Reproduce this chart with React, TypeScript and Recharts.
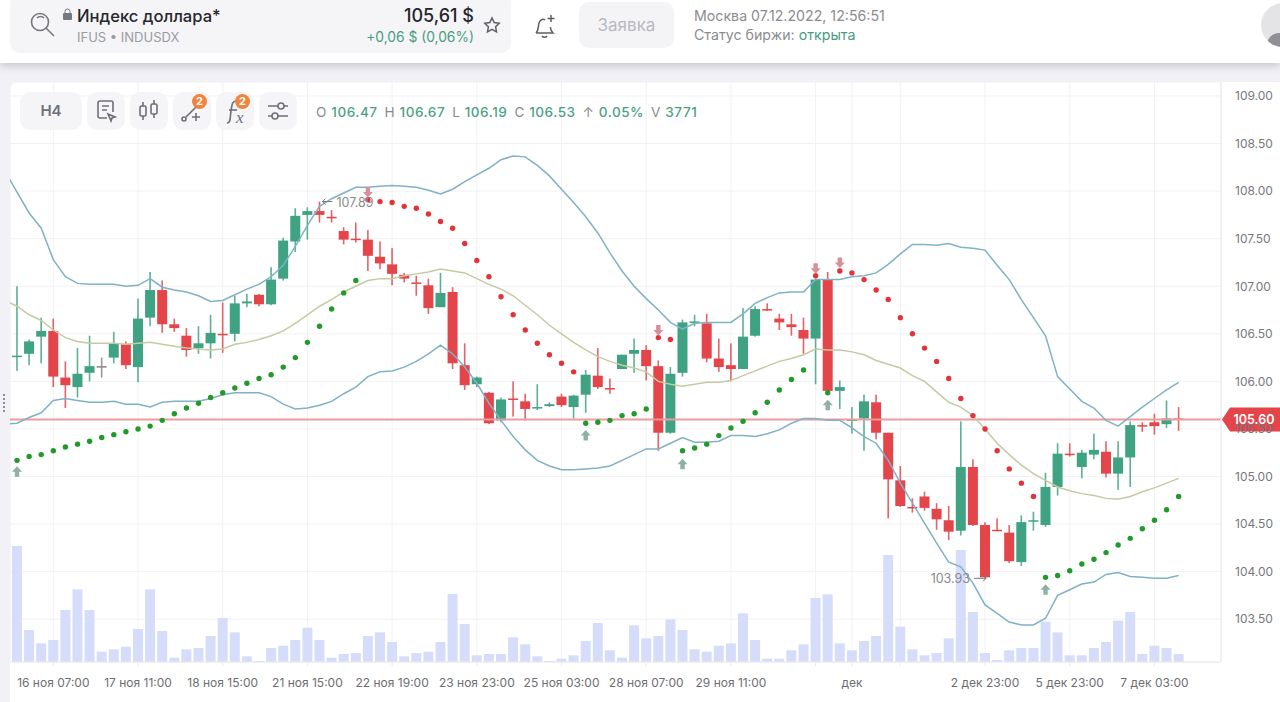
import React from "react";
import { ComposedChart, XAxis, YAxis, CartesianGrid, Bar, Line, ReferenceLine, ReferenceDot } from "recharts";

const font = "Inter, sans-serif";
const GREEN = "#3fa283";
const RED = "#e4454b";

// свечи H4, индекс 0 = первая свеча слева
const opens = [106.26, 106.29, 106.47, 106.53, 106.04, 105.94, 106.09, 106.16, 106.25, 106.39, 106.15, 106.67, 106.96, 106.6, 106.48, 106.35, 106.4, 106.5, 106.5, 106.82, 106.91, 106.81, 107.08, 107.47, 107.75, 107.79, 107.73, 107.58, 107.5, 107.49, 107.31, 107.23, 107.12, 107.04, 107.01, 106.78, 106.94, 106.17, 105.97, 105.88, 105.59, 105.82, 105.79, 105.72, 105.74, 105.84, 105.73, 105.86, 106.06, 105.93, 106.13, 106.29, 106.33, 106.16, 105.46, 106.09, 106.62, 106.61, 106.24, 106.17, 106.13, 106.48, 106.76, 106.66, 106.6, 106.54, 106.45, 107.07, 105.9, 105.59, 105.61, 105.78, 105.46, 104.96, 104.68, 104.79, 104.66, 104.54, 104.43, 105.1, 104.49, 104.44, 104.41, 104.1, 104.53, 104.49, 104.89, 105.24, 105.1, 105.23, 105.26, 105.03, 105.2, 105.54, 105.57, 105.55, 105.61];
const closes = [106.27, 106.42, 106.53, 106.05, 105.96, 106.08, 106.16, 106.16, 106.4, 106.17, 106.66, 106.96, 106.6, 106.56, 106.33, 106.4, 106.51, 106.49, 106.82, 106.84, 106.81, 107.07, 107.48, 107.74, 107.79, 107.75, 107.72, 107.49, 107.49, 107.32, 107.24, 107.13, 107.08, 107.03, 106.77, 106.93, 106.19, 105.96, 106.04, 105.56, 105.81, 105.81, 105.71, 105.73, 105.76, 105.75, 105.85, 106.07, 105.94, 105.92, 106.28, 106.33, 106.16, 105.46, 106.08, 106.62, 106.63, 106.24, 106.15, 106.13, 106.47, 106.76, 106.75, 106.62, 106.57, 106.45, 107.07, 105.9, 105.94, 105.6, 105.79, 105.46, 104.97, 104.69, 104.67, 104.67, 104.55, 104.42, 105.1, 104.49, 103.94, 104.43, 104.11, 104.52, 104.54, 104.89, 105.24, 105.23, 105.25, 105.28, 105.03, 105.2, 105.54, 105.53, 105.53, 105.61, 105.6];
const highs = [107.0, 106.44, 106.67, 106.66, 106.21, 106.35, 106.48, 106.25, 106.52, 106.42, 106.87, 107.15, 107.06, 106.66, 106.56, 106.58, 106.7, 106.83, 106.9, 106.92, 106.92, 107.2, 107.51, 107.82, 107.83, 107.89, 107.8, 107.62, 107.67, 107.59, 107.47, 107.4, 107.14, 107.11, 107.08, 107.14, 106.99, 106.4, 106.05, 105.89, 105.83, 106.0, 105.87, 105.97, 105.78, 105.87, 105.86, 106.12, 106.35, 106.03, 106.28, 106.45, 106.38, 106.22, 106.15, 106.65, 106.7, 106.71, 106.45, 106.4, 106.77, 106.79, 106.82, 106.71, 106.71, 106.67, 107.08, 107.15, 106.01, 105.73, 105.86, 105.86, 105.46, 105.11, 104.77, 104.84, 104.72, 104.69, 105.58, 105.18, 104.52, 104.56, 104.49, 104.59, 104.63, 105.04, 105.35, 105.35, 105.28, 105.45, 105.37, 105.37, 105.58, 105.57, 105.66, 105.8, 105.73];
const lows = [106.11, 106.17, 106.19, 105.94, 105.72, 105.83, 106.0, 106.04, 106.19, 106.13, 105.99, 106.58, 106.51, 106.52, 106.26, 106.29, 106.24, 106.3, 106.42, 106.78, 106.79, 106.8, 107.06, 107.36, 107.49, 107.67, 107.67, 107.44, 107.46, 107.16, 107.18, 107.01, 107.04, 106.9, 106.71, 106.78, 106.13, 105.91, 105.94, 105.55, 105.57, 105.63, 105.59, 105.7, 105.73, 105.73, 105.61, 105.67, 105.92, 105.87, 106.13, 106.09, 106.01, 105.27, 105.45, 106.05, 106.58, 106.2, 106.1, 106.0, 106.13, 106.47, 106.74, 106.54, 106.48, 106.29, 105.97, 105.9, 105.71, 105.45, 105.27, 105.39, 104.56, 104.68, 104.62, 104.64, 104.44, 104.33, 104.38, 104.48, 103.93, 104.43, 104.09, 104.06, 104.43, 104.47, 104.8, 105.21, 104.98, 105.18, 104.99, 104.86, 104.89, 105.47, 105.44, 105.51, 105.48];
const volumes = [23420, 6460, 3771, 4440, 10500, 14670, 10500, 2090, 2560, 3100, 6660, 14670, 6260, 875, 2560, 2830, 5250, 8880, 5990, 1140, 200, 2830, 3300, 4440, 6930, 4440, 875, 1620, 1820, 5250, 5990, 4040, 1140, 1820, 2090, 4040, 13730, 7670, 1350, 1620, 1620, 4980, 3570, 1140, 200, 670, 1350, 4240, 7870, 2360, 875, 7400, 4780, 5250, 8610, 6460, 2560, 2090, 3300, 3770, 9830, 4440, 670, 670, 2360, 3570, 12920, 13660, 3770, 2360, 4240, 5250, 21600, 7130, 2560, 1350, 1820, 4780, 22610, 10100, 1820, 400, 2360, 2830, 2830, 8140, 5990, 1350, 1350, 2830, 4040, 8350, 10100, 1620, 3300, 2830, 1620];

// parabolic SAR
const sar = [105.17, 105.21, 105.23, 105.27, 105.31, 105.34, 105.37, 105.41, 105.44, 105.47, 105.5, 105.53, 105.59, 105.66, 105.72, 105.77, 105.83, 105.88, 105.93, 105.98, 106.03, 106.07, 106.15, 106.25, 106.41, 106.58, 106.76, 106.93, 107.06, 107.91, 107.89, 107.88, 107.84, 107.82, 107.76, 107.68, 107.61, 107.45, 107.27, 107.1, 106.89, 106.7, 106.54, 106.4, 106.28, 106.19, 106.1, 105.56, 105.57, 105.59, 105.64, 105.66, 105.71, 106.46, 106.44, 105.27, 105.3, 105.34, 105.43, 105.51, 105.58, 105.67, 105.78, 105.91, 106.02, 106.12, 107.11, 105.88, 107.16, 107.14, 107.07, 106.96, 106.86, 106.67, 106.5, 106.35, 106.21, 106.03, 105.82, 105.64, 105.5, 105.27, 105.08, 104.93, 104.79, 103.94, 103.96, 104.01, 104.08, 104.13, 104.2, 104.28, 104.35, 104.45, 104.54, 104.65, 104.79];
const sarBearish = [29, 30, 31, 32, 33, 34, 35, 36, 37, 38, 39, 40, 41, 42, 43, 44, 45, 46, 53, 54, 66, 68, 69, 70, 71, 72, 73, 74, 75, 76, 77, 78, 79, 80, 81, 82, 83, 84];
const arrowUpAt: [number, number][] = [[0, 105.05], [47, 105.43], [55, 105.13], [67, 105.75], [85, 103.81]];
const arrowDownAt: [number, number][] = [[29, 107.99], [53, 106.54], [66, 107.19], [68, 107.25]];

// полосы Боллинджера, первый элемент - за левым краем (индекс -1)
const bbUpper = [108.21, 107.99, 107.77, 107.61, 107.28, 107.1, 107.03, 107.02, 107.02, 107.02, 107.0, 107.01, 107.08, 106.99, 106.96, 106.94, 106.9, 106.84, 106.85, 106.91, 106.97, 107.02, 107.1, 107.22, 107.42, 107.64, 107.84, 107.92, 107.98, 108.04, 108.04, 108.05, 108.06, 108.05, 108.04, 108.01, 107.97, 108.02, 108.1, 108.17, 108.24, 108.33, 108.37, 108.36, 108.27, 108.16, 108.02, 107.88, 107.73, 107.56, 107.35, 107.16, 107.0, 106.87, 106.75, 106.62, 106.55, 106.61, 106.62, 106.62, 106.62, 106.71, 106.82, 106.88, 106.93, 106.94, 106.94, 107.07, 107.07, 107.07, 107.1, 107.11, 107.14, 107.23, 107.34, 107.44, 107.44, 107.43, 107.45, 107.41, 107.4, 107.38, 107.22, 107.07, 106.86, 106.67, 106.48, 106.05, 105.92, 105.79, 105.72, 105.59, 105.53, 105.63, 105.73, 105.82, 105.91, 105.99];
const bbMiddle = [106.85, 106.79, 106.7, 106.64, 106.54, 106.46, 106.42, 106.4, 106.4, 106.4, 106.39, 106.4, 106.41, 106.39, 106.37, 106.35, 106.34, 106.33, 106.34, 106.39, 106.41, 106.44, 106.48, 106.53, 106.61, 106.7, 106.79, 106.86, 106.94, 107.0, 107.06, 107.08, 107.08, 107.11, 107.13, 107.15, 107.18, 107.16, 107.14, 107.08, 107.02, 106.97, 106.9, 106.8, 106.7, 106.59, 106.5, 106.41, 106.33, 106.26, 106.21, 106.17, 106.14, 106.1, 106.0, 105.97, 105.95, 105.97, 105.99, 105.99, 106.01, 106.06, 106.11, 106.16, 106.21, 106.24, 106.28, 106.34, 106.33, 106.33, 106.31, 106.28, 106.22, 106.18, 106.14, 106.06, 106.0, 105.89, 105.78, 105.73, 105.64, 105.5, 105.35, 105.23, 105.12, 105.03, 104.96, 104.89, 104.85, 104.82, 104.8, 104.77, 104.76, 104.79, 104.84, 104.88, 104.93, 104.98];
const bbLower = [105.55, 105.56, 105.62, 105.67, 105.8, 105.82, 105.8, 105.78, 105.78, 105.79, 105.76, 105.76, 105.73, 105.78, 105.79, 105.79, 105.79, 105.82, 105.86, 105.88, 105.88, 105.88, 105.84, 105.76, 105.71, 105.72, 105.75, 105.79, 105.87, 105.94, 106.05, 106.1, 106.11, 106.15, 106.21, 106.29, 106.38, 106.29, 106.15, 105.98, 105.77, 105.59, 105.42, 105.28, 105.17, 105.11, 105.07, 105.07, 105.08, 105.09, 105.11, 105.17, 105.23, 105.29, 105.29, 105.35, 105.41, 105.36, 105.36, 105.37, 105.43, 105.43, 105.42, 105.45, 105.49, 105.56, 105.61, 105.61, 105.59, 105.59, 105.51, 105.42, 105.35, 105.17, 104.93, 104.72, 104.51, 104.3, 104.1, 104.05, 103.88, 103.65, 103.56, 103.47, 103.44, 103.44, 103.51, 103.75, 103.81, 103.87, 103.89, 103.97, 103.99, 103.95, 103.94, 103.93, 103.93, 103.96];

const xTicks = [3, 10, 17, 24, 31, 38, 45, 52, 59, 66, 69, 73, 80, 87, 94];
const xTickLabels = ["16 ноя 07:00", "17 ноя 11:00", "18 ноя 15:00", "21 ноя 15:00", "22 ноя 19:00", "23 ноя 23:00", "25 ноя 03:00", "28 ноя 07:00", "29 ноя 11:00", "", "дек", "", "2 дек 23:00", "5 дек 23:00", "7 дек 03:00"];
const yTicks = [103.5, 104, 104.5, 105, 105.5, 106, 106.5, 107, 107.5, 108, 108.5, 109];
const lastPrice = 105.6;
const legend: [string, string][] = [["O", "106.47"], ["H", "106.67"], ["L", "106.19"], ["C", "106.53"], ["↑", "0.05%"], ["V", "3771"]];

const data = bbUpper.map((u, k) => {
  const i = k - 1;
  const row: any = { i, upper: u, middle: bbMiddle[k], lower: bbLower[k] };
  if (i >= 0) {
    row.open = opens[i];
    row.close = closes[i];
    row.high = highs[i];
    row.low = lows[i];
    row.volume = volumes[i];
    if (sarBearish.includes(i)) row.sarDown = sar[i];
    else row.sarUp = sar[i];
    const up = arrowUpAt.find((a) => a[0] === i);
    if (up) row.arrowUp = up[1];
    const down = arrowDownAt.find((a) => a[0] === i);
    if (down) row.arrowDown = down[1];
  }
  return row;
});

function Candle(props: any) {
  const { x, y, width, height, payload } = props;
  if (payload == null || payload.high == null) return null;
  const { open, close, high, low } = payload;
  const perUnit = height / (high - low);
  const top = y + (high - Math.max(open, close)) * perUnit;
  const bodyH = Math.max(1.5, Math.abs(open - close) * perUnit);
  const color = close === open ? "#8d8588" : close > open ? GREEN : RED;
  const cx = x + width / 2;
  return (
    <g>
      <rect x={cx - 0.8} y={y} width={1.6} height={height} fill={color} opacity={0.85} />
      <rect x={x} y={top} width={width} height={bodyH} fill={color} />
    </g>
  );
}

const SarDot = (color: string) => (props: any) => {
  const { cx, cy, index } = props;
  if (cy == null || Number.isNaN(cy)) return <g key={index} />;
  return <circle key={index} cx={cx} cy={cy} r={2.7} fill={color} />;
};

const ArrowDot = (dir: number, color: string) => (props: any) => {
  const { cx, cy, index } = props;
  if (cy == null || Number.isNaN(cy)) return <g key={index} />;
  const d = dir;
  const pts = [[0, -5.5 * d], [5, 0], [2.2, 0], [2.2, 5 * d], [-2.2, 5 * d], [-2.2, 0], [-5, 0]];
  return <polygon key={index} points={pts.map((p) => `${cx + p[0]},${cy + p[1]}`).join(" ")} fill={color} />;
};

function PriceTag(props: any) {
  const { viewBox } = props;
  const x = viewBox.x + viewBox.width + 1;
  const y = viewBox.y;
  const pts = [[x, y], [x + 8, y - 12], [x + 60, y - 12], [x + 60, y + 12], [x + 8, y + 12]];
  return (
    <g>
      <polygon points={pts.map((p) => p.join(",")).join(" ")} fill={RED} />
      <text x={x + 32} y={y + 5} textAnchor="middle" fontSize={12.5} fontWeight={600} fill="#fff" fontFamily={font}>
        {lastPrice.toFixed(2)}
      </text>
    </g>
  );
}

function Extreme(props: any) {
  const { cx, cy, side, text } = props;
  if (side === "right") {
    return (
      <g fontFamily={font}>
        <path d={`M${cx + 13} ${cy}H${cx + 3}m3 -3l-3 3l3 3`} stroke="#777" strokeWidth={1} fill="none" />
        <text x={cx + 17} y={cy + 5} fontSize={12.5} fill="#8b8b8b">{text}</text>
      </g>
    );
  }
  return (
    <g fontFamily={font}>
      <path d={`M${cx - 11} ${cy}H${cx + 1}m-3 -3l3 3l-3 3`} stroke="#777" strokeWidth={1} fill="none" />
      <text x={cx - 15} y={cy + 5} fontSize={12.5} fill="#8b8b8b" textAnchor="end">{text}</text>
    </g>
  );
}

const btn: React.CSSProperties = { position: "absolute", top: 92, height: 38, width: 38, background: "rgba(244,244,247,0.9)", borderRadius: 10 };

function ToolIcon({ left, children }: { left: number; children: React.ReactNode }) {
  return (
    <div style={{ ...btn, left }}>
      <svg width={38} height={38} fill="none" stroke="#6f6f78" strokeWidth={1.6}>{children}</svg>
    </div>
  );
}

const Badge = ({ left }: { left: number }) => (
  <div style={{ position: "absolute", left, top: 94, width: 15, height: 15, borderRadius: 8, background: "#f0843c", color: "#fff", fontSize: 11, fontWeight: 700, textAlign: "center", lineHeight: "15px" }}>2</div>
);

export default function App() {
  return (
    <div style={{ position: "fixed", left: 0, top: 0, width: 1280, height: 702, overflow: "hidden", background: "#f1f1f6", fontFamily: font }}>
      {/* шапка */}
      <div style={{ position: "absolute", left: 0, top: 0, width: 1280, height: 63, background: "#fff", boxShadow: "0 2px 9px rgba(60,60,70,0.28)" }} />
      <div style={{ position: "absolute", left: 10, top: -6, width: 501, height: 59, background: "#f5f5f7", borderRadius: 10 }} />
      <svg style={{ position: "absolute", left: 28, top: 10 }} width={30} height={30} fill="none" stroke="#77777f" strokeWidth={1.6}>
        <circle cx={12} cy={12} r={8.5} />
        <path d="M9 8a5 5 0 0 1 7 0M18 18l8 8" />
      </svg>
      <svg style={{ position: "absolute", left: 62, top: 8 }} width={11} height={13}>
        <rect x={1} y={5} width={9} height={7} rx={1} fill="#77777f" />
        <path d="M3 6V3.5a2.5 2.5 0 0 1 5 0V6" stroke="#77777f" fill="none" />
      </svg>
      <div style={{ position: "absolute", left: 77, top: 6, fontSize: 16.6, fontWeight: 500, color: "#26262b" }}>Индекс доллара*</div>
      <div style={{ position: "absolute", left: 77, top: 29, fontSize: 13, color: "#9a9aa3" }}>IFUS • INDUSDX</div>
      <div style={{ position: "absolute", right: 806, top: 5, fontSize: 18, fontWeight: 500, color: "#26262b" }}>105,61 $</div>
      <div style={{ position: "absolute", right: 806, top: 29, fontSize: 13.8, color: "#4a9c80" }}>+0,06 $ (0,06%)</div>
      <svg style={{ position: "absolute", left: 483, top: 16 }} width={18} height={18} fill="none" stroke="#5e5e66" strokeWidth={1.5}>
        <path d="M9 2l2.2 4.6 5 .7-3.6 3.5.9 5L9 13.4l-4.5 2.4.9-5L1.8 7.3l5-.7z" />
      </svg>
      <svg style={{ position: "absolute", left: 532, top: 12 }} width={26} height={28} fill="none" stroke="#5e5e66" strokeWidth={1.5}>
        <path d="M4 21c3-3 2-7 3-10s4-5 6-3M4 21h17c-2-2-2.5-4-2.6-6M10 24a3 3 0 0 0 5 0M19 3v7M15.5 6.5h7" />
      </svg>
      <div style={{ position: "absolute", left: 579, top: 2, width: 95, height: 46, background: "#f4f4f6", borderRadius: 10, textAlign: "center", lineHeight: "46px", fontSize: 17, color: "#b9b9c1" }}>Заявка</div>
      <div style={{ position: "absolute", left: 694, top: 7, fontSize: 14.2, color: "#8c8c8f" }}>Москва 07.12.2022, 12:56:51</div>
      <div style={{ position: "absolute", left: 694, top: 26, fontSize: 14.2, color: "#8c8c8f" }}>Статус биржи: <span style={{ color: "#4a9c80" }}>открыта</span></div>
      <div style={{ position: "absolute", left: 1261, top: 3, width: 44, height: 44, borderRadius: 22, background: "#e4e4e7", overflow: "hidden" }}>
        <div style={{ position: "absolute", left: 6, top: 30, width: 30, height: 24, borderRadius: 15, background: "#8f8f95" }} />
      </div>

      {/* карточка графика */}
      <div style={{ position: "absolute", left: 10, top: 82, width: 1270, height: 620, background: "#fff", borderTopLeftRadius: 8 }}>
        <ComposedChart width={1270} height={620} data={data} margin={{ top: 0, right: 0, bottom: 0, left: 0 }} style={{ fontFamily: font }}>
          <CartesianGrid stroke="#f2f2f6" xAxisId="main" yAxisId="price" />
          <XAxis
            xAxisId="main"
            dataKey="i"
            type="number"
            domain={[-0.58, 99.5]}
            allowDataOverflow
            ticks={xTicks}
            interval={0}
            height={40}
            tickFormatter={(v: number) => xTickLabels[xTicks.indexOf(v)]}
            tick={{ fontSize: 12, fill: "#6d6d72" }}
            tickSize={4}
            tickMargin={12}
            stroke="#e9e9ee"
          />
          <XAxis xAxisId="vol" dataKey="i" type="number" domain={[-0.58, 99.5]} allowDataOverflow hide />
          <YAxis
            yAxisId="price"
            orientation="right"
            domain={[103.05, 109.147]}
            allowDataOverflow
            ticks={yTicks}
            interval={0}
            width={59}
            tickFormatter={(v: number) => v.toFixed(2)}
            tick={{ fontSize: 12, fill: "#77777c" }}
            tickLine={false}
            tickMargin={8}
            stroke="#e9e9ee"
          />
          <YAxis yAxisId="volume" domain={[0, 117100]} hide />
          <Bar xAxisId="vol" yAxisId="volume" dataKey="volume" fill="#d6ddfb" barSize={10} isAnimationActive={false} />
          <ReferenceLine xAxisId="main" yAxisId="price" y={lastPrice} stroke="#ef9a9c" strokeWidth={2} label={<PriceTag />} />
          <Line xAxisId="main" yAxisId="price" dataKey="upper" stroke="#7fb2c4" strokeWidth={1.5} dot={false} isAnimationActive={false} />
          <Line xAxisId="main" yAxisId="price" dataKey="middle" stroke="#c4caa4" strokeWidth={1.5} dot={false} isAnimationActive={false} />
          <Line xAxisId="main" yAxisId="price" dataKey="lower" stroke="#7fb2c4" strokeWidth={1.5} dot={false} isAnimationActive={false} />
          <Bar xAxisId="main" yAxisId="price" dataKey={(d: any) => (d.high == null ? null : [d.low, d.high])} barSize={10} shape={<Candle />} isAnimationActive={false} />
          <Line xAxisId="main" yAxisId="price" dataKey="sarUp" stroke="none" dot={SarDot("#22992b")} isAnimationActive={false} />
          <Line xAxisId="main" yAxisId="price" dataKey="sarDown" stroke="none" dot={SarDot("#e2333b")} isAnimationActive={false} />
          <Line xAxisId="main" yAxisId="price" dataKey="arrowUp" stroke="none" dot={ArrowDot(1, "#8fb0a2")} isAnimationActive={false} />
          <Line xAxisId="main" yAxisId="price" dataKey="arrowDown" stroke="none" dot={ArrowDot(-1, "#d98f9a")} isAnimationActive={false} />
          <ReferenceDot xAxisId="main" yAxisId="price" x={25} y={107.89} shape={<Extreme side="right" text="107.89" />} />
          <ReferenceDot xAxisId="main" yAxisId="price" x={80} y={103.93} shape={<Extreme side="left" text="103.93" />} />
        </ComposedChart>
      </div>

      {/* панель инструментов */}
      <div style={{ ...btn, left: 20, width: 62, textAlign: "center", lineHeight: "38px", fontSize: 15, fontWeight: 600, color: "#6f6f78" }}>H4</div>
      <ToolIcon left={87}>
        <path d="M20 26h-7a2 2 0 0 1-2-2V11a2 2 0 0 1 2-2h11a2 2 0 0 1 2 2v9M15 14h7M15 18h5M21 22l7 3-3 1-1 3z" />
      </ToolIcon>
      <ToolIcon left={130}>
        <rect x={10} y={14} width={6} height={10} rx={1.5} />
        <rect x={21} y={12} width={6} height={10} rx={1.5} />
        <path d="M13 10v4M13 24v4M24 8v4M24 22v4" />
      </ToolIcon>
      <ToolIcon left={173}>
        <circle cx={11} cy={27} r={2} />
        <path d="M13 25l11-11M23 21v8M19 25h8" />
      </ToolIcon>
      <Badge left={192} />
      <ToolIcon left={216}>
        <path d="M11 31c4 0 3-6 4-12s1-10 5-10" />
        <path d="M13 18h8" />
      </ToolIcon>
      <div style={{ position: "absolute", left: 236, top: 108, fontFamily: "'Liberation Serif', serif", fontStyle: "italic", fontSize: 17, color: "#6f6f78" }}>x</div>
      <Badge left={235} />
      <ToolIcon left={259}>
        <path d="M9 14h10M25 14h4M9 24h4M19 24h10" />
        <circle cx={22} cy={14} r={3} />
        <circle cx={16} cy={24} r={3} />
      </ToolIcon>
      <div style={{ position: "absolute", left: 316, top: 104, fontSize: 13.6, letterSpacing: 0.5, whiteSpace: "nowrap", color: "#8a8a90" }}>
        {legend.map(([k, v]) => (
          <span key={k} style={{ marginRight: 7 }}>
            {k} <span style={{ color: "#4ba283", fontWeight: 500 }}>{v}</span>
          </span>
        ))}
      </div>
      <div style={{ position: "absolute", left: 3, top: 393, width: 2, height: 19, backgroundImage: "radial-gradient(circle, #8f8f96 1px, transparent 1px)", backgroundSize: "2px 4px" }} />
    </div>
  );
}
